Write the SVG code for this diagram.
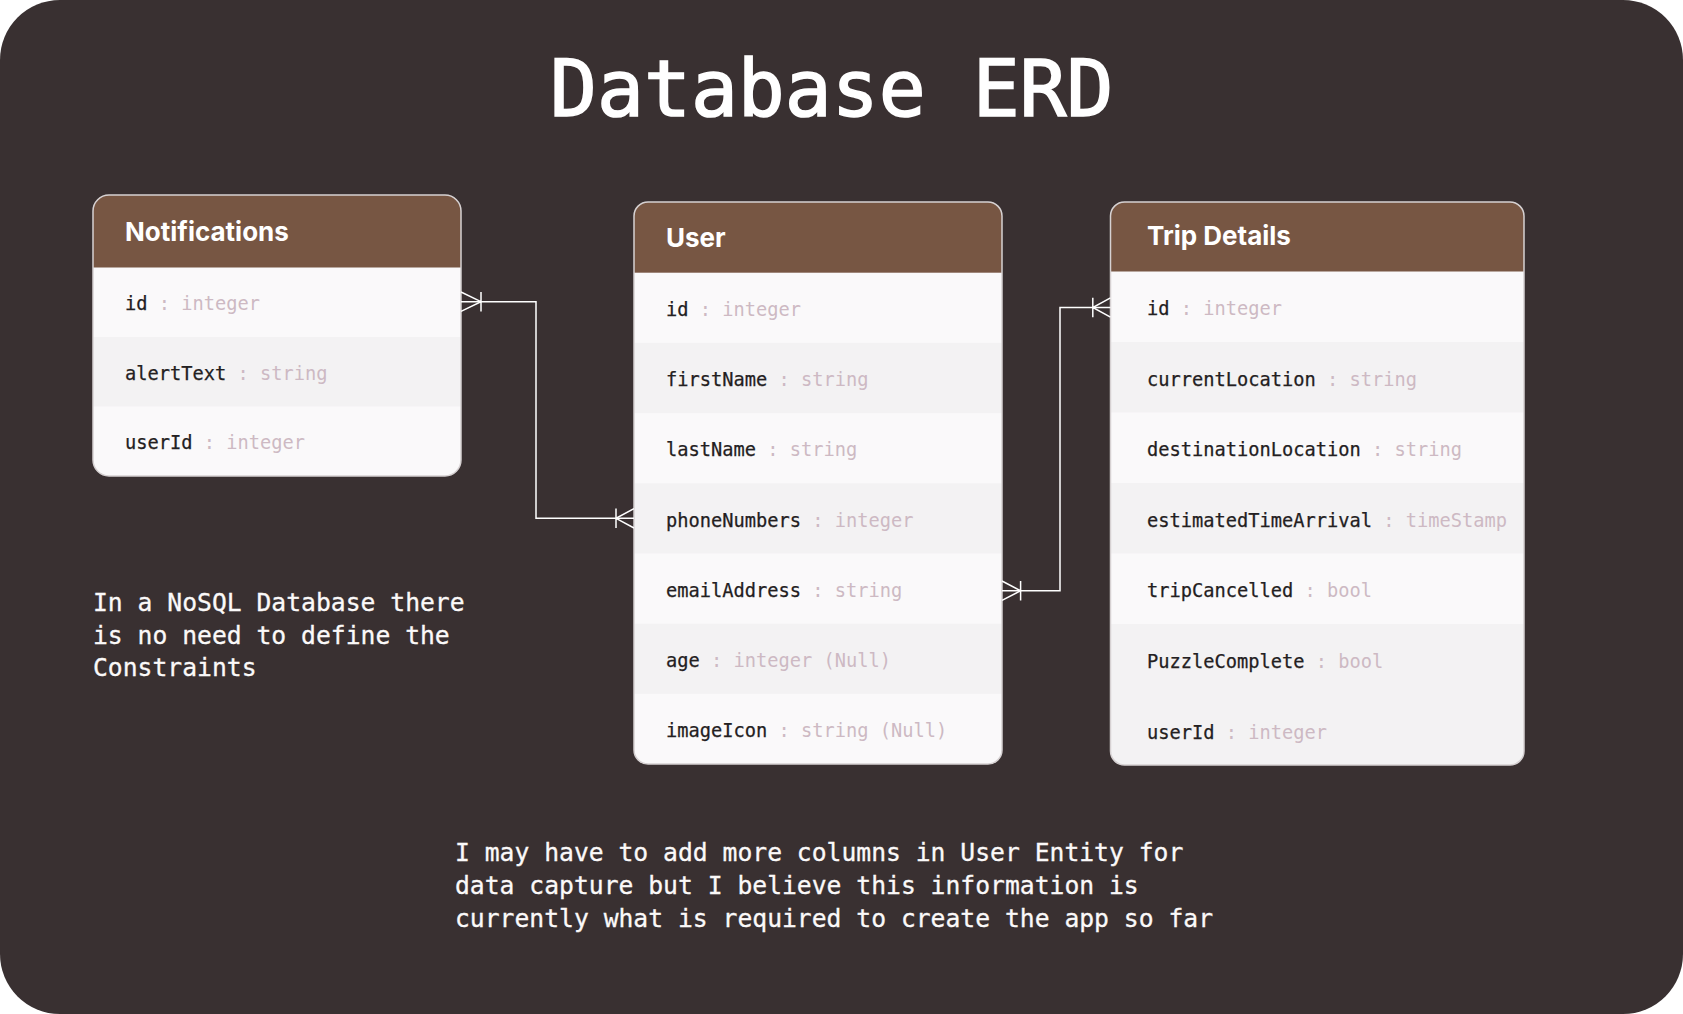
<svg xmlns="http://www.w3.org/2000/svg" width="1683" height="1014" viewBox="0 0 1683 1014">
  <style>
    .bg { fill: #393031; }
    .hdr { fill: #775643; }
    .rw { fill: #faf9fa; }
    .rg { fill: #f3f2f3; }
    .frame { fill: none; stroke: #d6d1d2; stroke-width: 1.5; }
    .title { font-family: "DejaVu Sans Mono", "Liberation Mono", monospace; font-size: 78px; fill: #ffffff; stroke: #ffffff; stroke-width: 1.6px; }
    .htxt { font-family: Inter, "Noto Sans", "Liberation Sans", sans-serif; font-weight: 700; font-size: 26px; fill: #ffffff; }
    .fld { font-family: "DejaVu Sans Mono", "Liberation Mono", monospace; font-size: 18.7px; fill: #232021; stroke: #232021; stroke-width: 0.25px; }
    .typ { fill: #cdb9c3; stroke: none; }
    .note { font-family: "DejaVu Sans Mono", "Liberation Mono", monospace; font-size: 24.7px; fill: #fbf9f9; stroke: #fbf9f9; stroke-width: 0.3px; }
    .conn { fill: none; stroke: #ffffff; stroke-width: 1.5; }
  </style>
  <defs>
    <clipPath id="cN"><rect x="93" y="195" width="368" height="281" rx="16"/></clipPath>
    <clipPath id="cU"><rect x="634" y="202" width="368" height="562" rx="14"/></clipPath>
    <clipPath id="cT"><rect x="1110.5" y="202" width="413.5" height="563" rx="14"/></clipPath>
  </defs>

  <rect class="bg" x="0" y="0" width="1683" height="1014" rx="60"/>

  <text class="title" x="550" y="116">Database ERD</text>

  <g id="notifications">
    <g clip-path="url(#cN)">
      <rect class="rw" x="93" y="195" width="368" height="281"/>
      <rect class="hdr" x="93" y="195" width="368" height="72.5"/>
      <rect class="rg" x="93" y="337" width="368" height="69.5"/>
    </g>
    <rect class="frame" x="93" y="195" width="368" height="281" rx="16"/>
    <text class="htxt" x="125" y="241">Notifications</text>
    <text class="fld" x="125" y="310">id<tspan class="typ"> : integer</tspan></text>
    <text class="fld" x="125" y="379.5">alertText<tspan class="typ"> : string</tspan></text>
    <text class="fld" x="125" y="449">userId<tspan class="typ"> : integer</tspan></text>
  </g>

  <g id="user">
    <g clip-path="url(#cU)">
      <rect class="rw" x="634" y="202" width="368" height="562"/>
      <rect class="hdr" x="634" y="202" width="368" height="70.7"/>
      <rect class="rg" x="634" y="342.9" width="368" height="70.2"/>
      <rect class="rg" x="634" y="483.3" width="368" height="70.2"/>
      <rect class="rg" x="634" y="623.7" width="368" height="70.2"/>
    </g>
    <rect class="frame" x="634" y="202" width="368" height="562" rx="14"/>
    <text class="htxt" x="666" y="247">User</text>
    <text class="fld" x="666" y="316">id<tspan class="typ"> : integer</tspan></text>
    <text class="fld" x="666" y="386">firstName<tspan class="typ"> : string</tspan></text>
    <text class="fld" x="666" y="456">lastName<tspan class="typ"> : string</tspan></text>
    <text class="fld" x="666" y="527">phoneNumbers<tspan class="typ"> : integer</tspan></text>
    <text class="fld" x="666" y="597">emailAddress<tspan class="typ"> : string</tspan></text>
    <text class="fld" x="666" y="667">age<tspan class="typ"> : integer (Null)</tspan></text>
    <text class="fld" x="666" y="737">imageIcon<tspan class="typ"> : string (Null)</tspan></text>
  </g>

  <g id="trip-details">
    <g clip-path="url(#cT)">
      <rect class="rw" x="1110.5" y="202" width="413.5" height="563"/>
      <rect class="hdr" x="1110.5" y="202" width="413.5" height="69.5"/>
      <rect class="rg" x="1110.5" y="342" width="413.5" height="70.5"/>
      <rect class="rg" x="1110.5" y="483" width="413.5" height="70.5"/>
      <rect class="rg" x="1110.5" y="624" width="413.5" height="141"/>
    </g>
    <rect class="frame" x="1110.5" y="202" width="413.5" height="563" rx="14"/>
    <text class="htxt" x="1147" y="245">Trip Details</text>
    <text class="fld" x="1147" y="315">id<tspan class="typ"> : integer</tspan></text>
    <text class="fld" x="1147" y="385.5">currentLocation<tspan class="typ"> : string</tspan></text>
    <text class="fld" x="1147" y="456">destinationLocation<tspan class="typ"> : string</tspan></text>
    <text class="fld" x="1147" y="526.5">estimatedTimeArrival<tspan class="typ"> : timeStamp</tspan></text>
    <text class="fld" x="1147" y="597">tripCancelled<tspan class="typ"> : bool</tspan></text>
    <text class="fld" x="1147" y="668">PuzzleComplete<tspan class="typ"> : bool</tspan></text>
    <text class="fld" x="1147" y="739">userId<tspan class="typ"> : integer</tspan></text>
  </g>

  <g id="connectors">
    <path class="conn" d="M461,301.7 H536 V518.3 H634"/>
    <path class="conn" d="M461,292 L481,301.7 L461,311.4 M481,292 V311.4"/>
    <path class="conn" d="M634,508.6 L616,518.3 L634,528 M616,508.6 V528"/>
    <path class="conn" d="M1002,590.7 H1060 V307.5 H1110.5"/>
    <path class="conn" d="M1002,581 L1020.6,590.7 L1002,600.4 M1020.6,581 V600.4"/>
    <path class="conn" d="M1110.5,297.8 L1092.8,307.5 L1110.5,317.2 M1092.8,297.8 V317.2"/>
  </g>

  <text class="note" x="93" y="611">In a NoSQL Database there</text>
  <text class="note" x="93" y="644">is no need to define the</text>
  <text class="note" x="93" y="676">Constraints</text>

  <text class="note" x="455" y="861">I may have to add more columns in User Entity for</text>
  <text class="note" x="455" y="894">data capture but I believe this information is</text>
  <text class="note" x="455" y="927">currently what is required to create the app so far</text>
</svg>
